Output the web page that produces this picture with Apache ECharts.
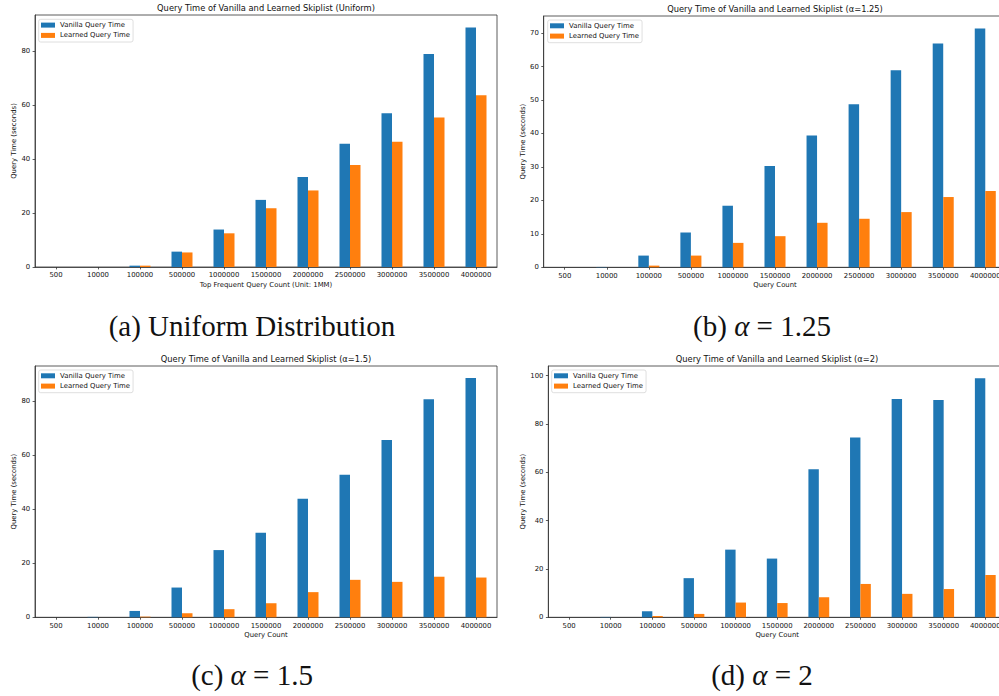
<!DOCTYPE html>
<html>
<head>
<meta charset="utf-8">
<script src="https://cdn.jsdelivr.net/npm/echarts@6/dist/echarts.min.js"></script>
<style>html,body{margin:0;padding:0;background:#fff;}#c{width:999px;height:696px;}</style>
</head>
<body>
<div id="c"></div>
<script>
var categories = ['500','10000','100000','500000','1000000','1500000','2000000','2500000','3000000','3500000','4000000'];

var vanillaUniform = [0, 0, 0.5, 5.7, 13.9, 24.9, 33.4, 45.7, 57.0, 79.0, 88.9];
var learnedUniform = [0, 0, 0.5, 5.4, 12.5, 21.8, 28.4, 37.8, 46.5, 55.5, 63.7];

var vanilla125 = [0, 0.1, 3.5, 10.4, 18.4, 30.3, 39.4, 48.7, 58.9, 66.9, 71.4];
var learned125 = [0, 0, 0.5, 3.5, 7.3, 9.3, 13.3, 14.5, 16.5, 21.0, 22.8];

var vanilla15 = [0, 0.15, 2.35, 11.0, 24.85, 31.3, 43.8, 52.7, 65.5, 80.6, 88.5];
var learned15 = [0, 0, 0.25, 1.5, 3.0, 5.2, 9.3, 13.85, 13.1, 15.0, 14.7];

var vanilla2 = [0, 0.15, 2.5, 16.2, 28.0, 24.3, 61.3, 74.4, 90.3, 89.9, 98.9];
var learned2 = [0, 0, 0.55, 1.4, 6.1, 5.9, 8.3, 13.8, 9.7, 11.7, 17.5];

var yTicksUniform = [0, 20, 40, 60, 80];
var yTicks125 = [0, 10, 20, 30, 40, 50, 60, 70];
var yTicks15 = [0, 20, 40, 60, 80];
var yTicks2 = [0, 20, 40, 60, 80, 100];

var titles = [
  'Query Time of Vanilla and Learned Skiplist (Uniform)',
  'Query Time of Vanilla and Learned Skiplist (\u03b1=1.25)',
  'Query Time of Vanilla and Learned Skiplist (\u03b1=1.5)',
  'Query Time of Vanilla and Learned Skiplist (\u03b1=2)'
];
var xNames = ['Top Frequent Query Count (Unit: 1MM)', 'Query Count', 'Query Count', 'Query Count'];
var yName = 'Query Time (seconds)';
var captions = ['(a) Uniform Distribution', '(b) {i|\u03b1} = 1.25', '(c) {i|\u03b1} = 1.5', '(d) {i|\u03b1} = 2'];
var seriesNames = ['Vanilla Query Time', 'Learned Query Time'];

var FONT = 'DejaVu Sans';
var BLUE = '#1f77b4', ORANGE = '#ff7f0e';

var panels = [
  {grid:{left:35, top:15, width:462, height:252}, max:93.5, ticks:yTicksUniform, v:vanillaUniform, l:learnedUniform, yGap:17.5, legend:{left:38.7, top:19.3}, title:{x:266, y:8.3}, cap:{x:252, y:325.5}},
  {grid:{left:543.7, top:16, width:462.6, height:251.3}, max:75.1, ticks:yTicks125, v:vanilla125, l:learned125, yGap:17, legend:{left:547.7, top:20}, title:{x:775, y:9.3}, cap:{x:762, y:325.5}},
  {grid:{left:35, top:366, width:462, height:251.3}, max:92.9, ticks:yTicks15, v:vanilla15, l:learned15, yGap:17.5, legend:{left:38.7, top:370}, title:{x:266, y:359.3}, cap:{x:252, y:674.5}},
  {grid:{left:548.3, top:366, width:457.8, height:251.3}, max:104, ticks:yTicks2, v:vanilla2, l:learned2, yGap:21.5, legend:{left:551.7, top:370}, title:{x:777, y:359.3}, cap:{x:762, y:674.5}}
];

var option = {
  animation: false,
  backgroundColor: '#fff',
  grid: [], xAxis: [], yAxis: [], series: [], legend: [], graphic: []
};

panels.forEach(function(p, i){
  option.grid.push({left:p.grid.left, top:p.grid.top, width:p.grid.width, height:p.grid.height,
    show:true, borderColor:'#333', borderWidth:0.8, backgroundColor:'transparent', containLabel:false,
    outerBoundsMode:'none'});
  option.xAxis.push({
    type:'category', gridIndex:i, data:categories, boundaryGap:true,
    axisLine:{show:true, lineStyle:{color:'#333', width:0.8}},
    axisTick:{show:true, alignWithLabel:true, length:2.4, lineStyle:{color:'#333', width:0.8}},
    axisLabel:{interval:0, fontSize:6.9, color:'#111', fontFamily:FONT, margin:4.8, hideOverlap:false},
    name:xNames[i], nameLocation:'middle', nameGap:14.5,
    nameTextStyle:{fontSize:6.9, color:'#111', fontFamily:FONT},
    splitLine:{show:false}
  });
  option.yAxis.push({
    type:'value', gridIndex:i, min:0, max:p.max,
    axisLine:{show:true, lineStyle:{color:'#333', width:0.8}},
    axisTick:{show:true, length:2.4, customValues:p.ticks, lineStyle:{color:'#333', width:0.8}},
    axisLabel:{fontSize:6.9, color:'#111', fontFamily:FONT, margin:4.8, customValues:p.ticks},
    splitLine:{show:false},
    name:yName, nameLocation:'middle', nameGap:p.yGap, nameRotate:90,
    nameTextStyle:{fontSize:6.9, color:'#111', fontFamily:FONT}
  });
  option.series.push({
    name:seriesNames[0], type:'bar', xAxisIndex:i, yAxisIndex:i, data:p.v,
    barWidth:'25%', barGap:'0%', itemStyle:{color:BLUE}
  });
  option.series.push({
    name:seriesNames[1], type:'bar', xAxisIndex:i, yAxisIndex:i, data:p.l,
    barWidth:'25%', barGap:'0%', itemStyle:{color:ORANGE}
  });
  option.legend.push({
    data:seriesNames, orient:'vertical', left:p.legend.left, top:p.legend.top,
    padding:[1.8,3,2.6,2.3], itemGap:2.3, itemWidth:14, itemHeight:5,
    icon:'rect', borderColor:'#d5d5d5', borderWidth:0.8, borderRadius:2,
    backgroundColor:'rgba(255,255,255,0.8)', selectedMode:false,
    textStyle:{fontSize:6.9, lineHeight:8, color:'#111', fontFamily:FONT, padding:[0,0,0,0]},
    itemStyle:{borderWidth:0}
  });
  option.graphic.push({
    type:'text', x:p.title.x, y:p.title.y, silent:true,
    style:{text:titles[i], fontSize:8.3, fontFamily:FONT, fill:'#111', textAlign:'center', textVerticalAlign:'middle'}
  });
  option.graphic.push({
    type:'text', x:p.cap.x, y:p.cap.y, silent:true,
    style:{text:captions[i], fontSize:29, fontFamily:'Liberation Serif', fill:'#111', textAlign:'center', textVerticalAlign:'middle',
      rich:{i:{fontStyle:'italic', fontSize:29, fontFamily:'Liberation Serif', fill:'#111'}}}
  });
});

var chart = echarts.init(document.getElementById('c'), null, {renderer:'svg', width:999, height:696});
chart.setOption(option);
</script>
</body>
</html>
